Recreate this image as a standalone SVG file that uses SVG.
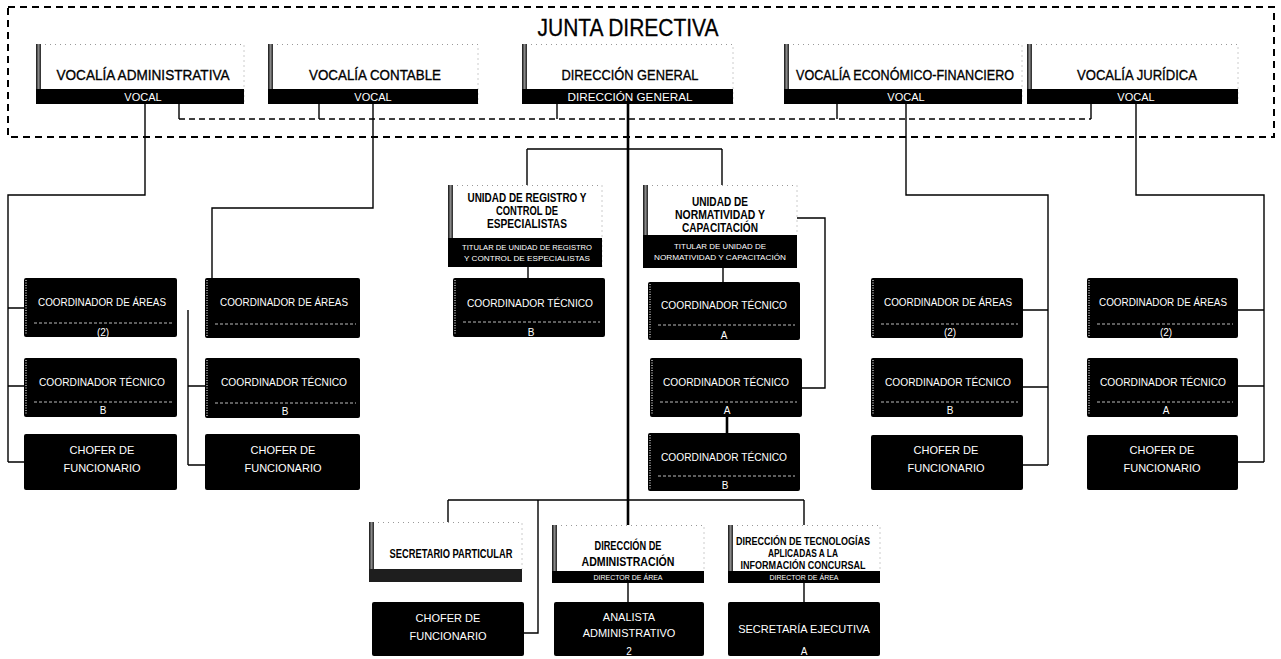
<svg xmlns="http://www.w3.org/2000/svg" width="1281" height="659" viewBox="0 0 1281 659">
<defs>
<linearGradient id="edge" x1="0" x2="1" y1="0" y2="0"><stop offset="0" stop-color="#111"/><stop offset="0.5" stop-color="#888"/><stop offset="1" stop-color="#222"/></linearGradient>
</defs>
<style>
text{font-family:"Liberation Sans Narrow","Liberation Sans",Arial,sans-serif;text-anchor:middle}
.w{fill:#fff}
.k{fill:#000}
.edge{fill:url(#edge)}
.wbox{fill:#fff}
.dot{stroke:#999;stroke-width:1;stroke-dasharray:1 4;fill:none}
.lstrip{stroke:#8a8a8a;stroke-width:2;stroke-dasharray:1 1.5;fill:none}
.sep{stroke:#bbb;stroke-width:1;stroke-dasharray:3 2;fill:none}
.ln{stroke:#000;stroke-width:1.4;fill:none}
.thick{stroke:#000;stroke-width:2.6;fill:none}
.dsh{stroke:#000;stroke-width:2;stroke-dasharray:7 5;fill:none}
.dsh2{stroke:#000;stroke-width:1.6;stroke-dasharray:6 4;fill:none}
.ttl{font-size:15px;stroke:#000;stroke-width:0.35}
.hd{font-size:24px;stroke:#000;stroke-width:0.3}
.lbl{font-size:11px}
.bt{font-size:12px;font-weight:bold}
.sub{font-size:10px}
.tiny{font-size:7px}
.b{font-weight:bold}
</style>

<g id="junta-directiva">
<rect class="dsh" x="8" y="7" width="1266" height="130"/>
<text class="hd" x="628" y="36" textLength="181" lengthAdjust="spacingAndGlyphs">JUNTA DIRECTIVA</text>
</g>

<g id="connectors">
<path class="dsh2" d="M179 119H1091"/>
<path class="ln" d="M179 104V119M319 104V119M557 104V119M837 104V119M1091 104V119"/>
<path class="ln" d="M145 104V195H8V462M8 308H24M8 386H24M8 462H24"/>
<path class="ln" d="M373 104V208H212V278M188 310V465M188 386H205M188 465H205"/>
<path class="thick" d="M628 104V525"/>
<path class="ln" d="M527 149H722M527 149V185M722 149V185"/>
<path class="ln" d="M528 267V278M723 268V282M797 218H825V388H802"/>
<path class="thick" d="M727 417V433"/>
<path class="ln" d="M448 500H804M448 500V522M804 500V525M538 500V633H524M628 583V602M804 583V602"/>
<path class="ln" d="M906 104V195H1048V465M1048 310H1023M1048 387H1023M1048 465H1023"/>
<path class="ln" d="M1136 104V195H1264V462M1264 310H1238M1264 386H1238M1264 462H1238"/>
</g>

<g id="n-vocalia-administrativa">
<rect class="wbox" x="36" y="44" width="208" height="60"/>
<path class="dot" d="M40 44.5H244V104"/>
<rect class="edge" x="36" y="44" width="5" height="60"/>
<rect class="k" x="36" y="89" width="208" height="15"/>
<text class="ttl" x="143" y="80" textLength="173" lengthAdjust="spacingAndGlyphs">VOCALÍA ADMINISTRATIVA</text>
<text class="lbl w" x="143" y="101">VOCAL</text>
</g>
<g id="n-vocalia-contable">
<rect class="wbox" x="268" y="44" width="210" height="60"/>
<path class="dot" d="M272 44.5H478V104"/>
<rect class="edge" x="268" y="44" width="5" height="60"/>
<rect class="k" x="268" y="89" width="210" height="15"/>
<text class="ttl" x="375" y="80" textLength="132" lengthAdjust="spacingAndGlyphs">VOCALÍA CONTABLE</text>
<text class="lbl w" x="373" y="101">VOCAL</text>
</g>
<g id="n-direccion-general">
<rect class="wbox" x="522" y="44" width="211" height="60"/>
<path class="dot" d="M526 44.5H733V104"/>
<rect class="edge" x="522" y="44" width="5" height="60"/>
<rect class="k" x="522" y="89" width="211" height="15"/>
<text class="ttl" x="630" y="80" textLength="137" lengthAdjust="spacingAndGlyphs">DIRECCIÓN GENERAL</text>
<text class="lbl w" x="630" y="101" textLength="125" lengthAdjust="spacingAndGlyphs">DIRECCIÓN GENERAL</text>
</g>
<g id="n-vocalia-economico-financiero">
<rect class="wbox" x="784" y="44" width="238" height="60"/>
<path class="dot" d="M788 44.5H1022V104"/>
<rect class="edge" x="784" y="44" width="5" height="60"/>
<rect class="k" x="784" y="89" width="238" height="15"/>
<text class="ttl" x="905" y="80" textLength="218" lengthAdjust="spacingAndGlyphs">VOCALÍA ECONÓMICO-FINANCIERO</text>
<text class="lbl w" x="906" y="101">VOCAL</text>
</g>
<g id="n-vocalia-juridica">
<rect class="wbox" x="1027" y="44" width="211" height="60"/>
<path class="dot" d="M1031 44.5H1238V104"/>
<rect class="edge" x="1027" y="44" width="5" height="60"/>
<rect class="k" x="1027" y="89" width="211" height="15"/>
<text class="ttl" x="1137" y="80" textLength="120" lengthAdjust="spacingAndGlyphs">VOCALÍA JURÍDICA</text>
<text class="lbl w" x="1136" y="101">VOCAL</text>
</g>

<!-- column 1 -->
<g id="n-c1-coord-areas">
<rect class="k" x="24" y="278" width="153" height="59" rx="2"/>
<path class="lstrip" d="M26 280V335"/>
<path class="sep" d="M34 323H172"/>
<text class="lbl w" x="102" y="306" textLength="128" lengthAdjust="spacingAndGlyphs">COORDINADOR DE ÁREAS</text>
<text class="sub w" x="103" y="336">(2)</text>
</g>
<g id="n-c1-coord-tecnico">
<rect class="k" x="24" y="358" width="153" height="59" rx="2"/>
<path class="lstrip" d="M26 360V415"/>
<path class="sep" d="M34 402H172"/>
<text class="lbl w" x="102" y="386" textLength="126" lengthAdjust="spacingAndGlyphs">COORDINADOR TÉCNICO</text>
<text class="sub w" x="103" y="414">B</text>
</g>
<g id="n-c1-chofer">
<rect class="k" x="24" y="434" width="153" height="56" rx="2"/>
<text class="lbl w" x="102" y="454">CHOFER DE</text>
<text class="lbl w" x="102" y="472">FUNCIONARIO</text>
</g>

<!-- column 2 -->
<g id="n-c2-coord-areas">
<rect class="k" x="205" y="278" width="155" height="60" rx="2"/>
<path class="lstrip" d="M207 280V336"/>
<path class="sep" d="M215 324H356"/>
<text class="lbl w" x="284" y="306" textLength="128" lengthAdjust="spacingAndGlyphs">COORDINADOR DE ÁREAS</text>
</g>
<g id="n-c2-coord-tecnico">
<rect class="k" x="205" y="358" width="155" height="60" rx="2"/>
<path class="lstrip" d="M207 360V416"/>
<path class="sep" d="M215 403H356"/>
<text class="lbl w" x="284" y="386" textLength="126" lengthAdjust="spacingAndGlyphs">COORDINADOR TÉCNICO</text>
<text class="sub w" x="285" y="415">B</text>
</g>
<g id="n-c2-chofer">
<rect class="k" x="205" y="434" width="155" height="56" rx="2"/>
<text class="lbl w" x="283" y="454">CHOFER DE</text>
<text class="lbl w" x="283" y="472">FUNCIONARIO</text>
</g>

<!-- middle units -->
<g id="n-unidad-registro">
<rect class="wbox" x="448" y="185" width="154" height="82"/>
<path class="dot" d="M452 185.5H602V267"/>
<rect class="edge" x="448" y="185" width="5" height="82"/>
<rect class="k" x="448" y="238" width="154" height="29"/>
<text class="bt" x="527" y="202" textLength="119" lengthAdjust="spacingAndGlyphs">UNIDAD DE REGISTRO Y</text>
<text class="bt" x="527" y="215" textLength="62" lengthAdjust="spacingAndGlyphs">CONTROL DE</text>
<text class="bt" x="527" y="228" textLength="80" lengthAdjust="spacingAndGlyphs">ESPECIALISTAS</text>
<text class="tiny w" x="527" y="250" textLength="130" lengthAdjust="spacingAndGlyphs">TITULAR DE UNIDAD DE REGISTRO</text>
<text class="tiny w" x="527" y="261" textLength="126" lengthAdjust="spacingAndGlyphs">Y CONTROL DE ESPECIALISTAS</text>
</g>
<g id="n-unidad-registro-coord-tecnico">
<rect class="k" x="453" y="278" width="152" height="59" rx="2"/>
<path class="lstrip" d="M455 280V335"/>
<path class="sep" d="M463 322H600"/>
<text class="lbl w" x="530" y="307" textLength="126" lengthAdjust="spacingAndGlyphs">COORDINADOR TÉCNICO</text>
<text class="sub w" x="531" y="336">B</text>
</g>
<g id="n-unidad-normatividad">
<rect class="wbox" x="643" y="185" width="154" height="83"/>
<path class="dot" d="M647 185.5H797V235"/>
<rect class="edge" x="643" y="185" width="5" height="83"/>
<rect class="k" x="643" y="235" width="154" height="33"/>
<text class="bt" x="720" y="206" textLength="56" lengthAdjust="spacingAndGlyphs">UNIDAD DE</text>
<text class="bt" x="720" y="219" textLength="90" lengthAdjust="spacingAndGlyphs">NORMATIVIDAD Y</text>
<text class="bt" x="720" y="232" textLength="76" lengthAdjust="spacingAndGlyphs">CAPACITACIÓN</text>
<text class="tiny w" x="720" y="249" textLength="92" lengthAdjust="spacingAndGlyphs">TITULAR DE UNIDAD DE</text>
<text class="tiny w" x="720" y="260" textLength="132" lengthAdjust="spacingAndGlyphs">NORMATIVIDAD Y CAPACITACIÓN</text>
</g>
<g id="n-normatividad-coord-tecnico-a1">
<rect class="k" x="648" y="282" width="152" height="58" rx="2"/>
<path class="lstrip" d="M650 284V338"/>
<path class="sep" d="M658 325H795"/>
<text class="lbl w" x="724" y="309" textLength="126" lengthAdjust="spacingAndGlyphs">COORDINADOR TÉCNICO</text>
<text class="sub w" x="724" y="339">A</text>
</g>
<g id="n-normatividad-coord-tecnico-a2">
<rect class="k" x="650" y="358" width="152" height="59" rx="2"/>
<path class="lstrip" d="M652 360V415"/>
<path class="sep" d="M660 402H797"/>
<text class="lbl w" x="726" y="386" textLength="126" lengthAdjust="spacingAndGlyphs">COORDINADOR TÉCNICO</text>
<text class="sub w" x="727" y="414">A</text>
</g>
<g id="n-normatividad-coord-tecnico-b">
<rect class="k" x="648" y="433" width="152" height="58" rx="2"/>
<path class="lstrip" d="M650 435V489"/>
<path class="sep" d="M658 476H795"/>
<text class="lbl w" x="724" y="461" textLength="126" lengthAdjust="spacingAndGlyphs">COORDINADOR TÉCNICO</text>
<text class="sub w" x="725" y="489">B</text>
</g>

<!-- column 4 -->
<g id="n-c4-coord-areas">
<rect class="k" x="871" y="278" width="152" height="60" rx="2"/>
<path class="lstrip" d="M873 280V336"/>
<path class="sep" d="M881 324H1018"/>
<text class="lbl w" x="948" y="306" textLength="128" lengthAdjust="spacingAndGlyphs">COORDINADOR DE ÁREAS</text>
<text class="sub w" x="950" y="336">(2)</text>
</g>
<g id="n-c4-coord-tecnico">
<rect class="k" x="871" y="358" width="152" height="59" rx="2"/>
<path class="lstrip" d="M873 360V415"/>
<path class="sep" d="M881 402H1018"/>
<text class="lbl w" x="948" y="386" textLength="126" lengthAdjust="spacingAndGlyphs">COORDINADOR TÉCNICO</text>
<text class="sub w" x="950" y="414">B</text>
</g>
<g id="n-c4-chofer">
<rect class="k" x="871" y="435" width="152" height="55" rx="2"/>
<text class="lbl w" x="946" y="454">CHOFER DE</text>
<text class="lbl w" x="946" y="472">FUNCIONARIO</text>
</g>

<!-- column 5 -->
<g id="n-c5-coord-areas">
<rect class="k" x="1087" y="278" width="151" height="60" rx="2"/>
<path class="lstrip" d="M1089 280V336"/>
<path class="sep" d="M1097 324H1233"/>
<text class="lbl w" x="1163" y="306" textLength="128" lengthAdjust="spacingAndGlyphs">COORDINADOR DE ÁREAS</text>
<text class="sub w" x="1166" y="336">(2)</text>
</g>
<g id="n-c5-coord-tecnico">
<rect class="k" x="1087" y="358" width="151" height="59" rx="2"/>
<path class="lstrip" d="M1089 360V415"/>
<path class="sep" d="M1097 402H1233"/>
<text class="lbl w" x="1163" y="386" textLength="126" lengthAdjust="spacingAndGlyphs">COORDINADOR TÉCNICO</text>
<text class="sub w" x="1166" y="414">A</text>
</g>
<g id="n-c5-chofer">
<rect class="k" x="1087" y="435" width="151" height="55" rx="2"/>
<text class="lbl w" x="1162" y="454">CHOFER DE</text>
<text class="lbl w" x="1162" y="472">FUNCIONARIO</text>
</g>

<!-- bottom -->
<g id="n-secretario-particular">
<rect class="wbox" x="369" y="522" width="153" height="60"/>
<path class="dot" d="M373 522.5H522V569"/>
<rect class="edge" x="369" y="522" width="5" height="60"/>
<rect x="369" y="569" width="153" height="13" fill="#1e1e1e"/>
<text class="bt" x="451" y="558" textLength="123" lengthAdjust="spacingAndGlyphs">SECRETARIO PARTICULAR</text>
</g>
<g id="n-secretario-chofer">
<rect class="k" x="372" y="602" width="152" height="54" rx="2"/>
<text class="lbl w" x="448" y="622">CHOFER DE</text>
<text class="lbl w" x="448" y="640">FUNCIONARIO</text>
</g>
<g id="n-direccion-administracion">
<rect class="wbox" x="552" y="525" width="152" height="58"/>
<path class="dot" d="M556 525.5H704V571"/>
<rect class="edge" x="552" y="525" width="5" height="58"/>
<rect class="k" x="552" y="571" width="152" height="12"/>
<text class="bt" x="628" y="550" style="font-size:12.5px" textLength="67" lengthAdjust="spacingAndGlyphs">DIRECCIÓN DE</text>
<text class="bt" x="628" y="566" style="font-size:12.5px" textLength="93" lengthAdjust="spacingAndGlyphs">ADMINISTRACIÓN</text>
<text class="tiny w" x="628" y="580">DIRECTOR DE ÁREA</text>
</g>
<g id="n-analista-administrativo">
<rect class="k" x="554" y="602" width="150" height="54" rx="2"/>
<text class="lbl w" x="629" y="621">ANALISTA</text>
<text class="lbl w" x="629" y="637">ADMINISTRATIVO</text>
<text class="sub w" x="629" y="655">2</text>
</g>
<g id="n-direccion-tecnologias">
<rect class="wbox" x="728" y="525" width="152" height="58"/>
<path class="dot" d="M732 525.5H880V571"/>
<rect class="edge" x="728" y="525" width="5" height="58"/>
<rect class="k" x="728" y="571" width="152" height="12"/>
<text class="b" x="803" y="545" style="font-size:10.5px" textLength="134" lengthAdjust="spacingAndGlyphs">DIRECCIÓN DE TECNOLOGÍAS</text>
<text class="b" x="803" y="557" style="font-size:10.5px" textLength="70" lengthAdjust="spacingAndGlyphs">APLICADAS A LA</text>
<text class="b" x="803" y="569" style="font-size:10.5px" textLength="125" lengthAdjust="spacingAndGlyphs">INFORMACIÓN CONCURSAL</text>
<text class="tiny w" x="804" y="580">DIRECTOR DE ÁREA</text>
</g>
<g id="n-secretaria-ejecutiva">
<rect class="k" x="728" y="602" width="152" height="54" rx="2"/>
<text class="lbl w" x="804" y="633">SECRETARÍA EJECUTIVA</text>
<text class="sub w" x="804" y="655">A</text>
</g>
</svg>
